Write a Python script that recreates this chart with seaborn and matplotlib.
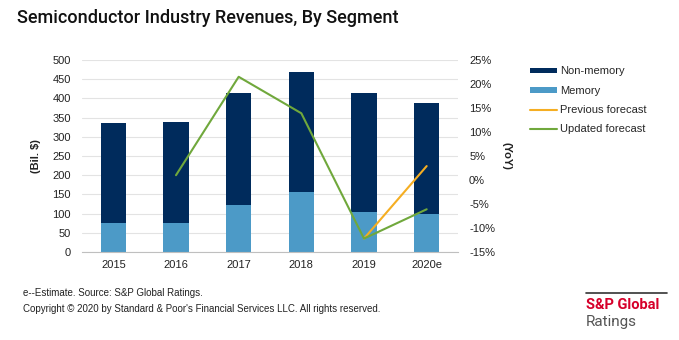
import numpy as np
import pandas as pd
import matplotlib
matplotlib.use("Agg")
import matplotlib.pyplot as plt
import seaborn as sns
from matplotlib.patches import Patch
from matplotlib.lines import Line2D

years = ["2015", "2016", "2017", "2018", "2019", "2020e"]
memory = [75, 76, 122, 156, 103, 100]
non_memory = [260, 262, 291, 312, 310, 287]
updated_forecast = [np.nan, 1.0, 21.5, 13.9, -12.2, -6.1]
previous_forecast = [np.nan, np.nan, np.nan, np.nan, -12.2, 2.9]

left_ticks = list(range(0, 501, 50))
right_ticks = list(range(-15, 26, 5))

NAVY = "#002B5C"
LIGHT = "#4C9AC7"
GREEN = "#70A83C"
ORANGE = "#F5AE22"
TXT = "#222222"

sns.set_theme(style="white")
plt.rcParams["font.family"] = ["Liberation Sans", "DejaVu Sans"]

df = pd.DataFrame({
    "year": years,
    "memory": memory,
    "total": np.array(memory) + np.array(non_memory),
    "pos": np.arange(len(years)),
    "upd": updated_forecast,
    "prev": previous_forecast,
})

fig = plt.figure(figsize=(6.79, 3.40), dpi=100)
ax = fig.add_axes([82 / 679, 1 - 252 / 340, 376 / 679, 192 / 340])

sns.barplot(data=df, x="year", y="total", color=NAVY, width=0.4, ax=ax,
            saturation=1, edgecolor="none")
sns.barplot(data=df, x="year", y="memory", color=LIGHT, width=0.4, ax=ax,
            saturation=1, edgecolor="none")

ax.set_ylim(0, 500)
ax.set_yticks(left_ticks)
ax.set_xlim(-0.5, len(years) - 0.5)
ax.yaxis.grid(True, color="#E3E3E3", linewidth=0.8)
ax.set_axisbelow(True)
for s in ["top", "right", "left"]:
    ax.spines[s].set_visible(False)
ax.spines["bottom"].set_color("#BFBFBF")
ax.spines["bottom"].set_linewidth(0.8)
ax.tick_params(axis="y", length=0, pad=8, labelsize=8, labelcolor=TXT)
ax.tick_params(axis="x", which="major", length=0, pad=6, labelsize=8, labelcolor=TXT)
ax.set_xticks(np.arange(-0.5, len(years)), minor=True)
ax.tick_params(axis="x", which="minor", length=4, color="#BFBFBF", width=0.8)
ax.set_xlabel("")
ax.set_ylabel("(Bil. $)", fontsize=8, fontweight="bold", color=TXT, labelpad=8)

ax2 = ax.twinx()
sns.lineplot(data=df, x="pos", y="prev", color=ORANGE, linewidth=1.5, ax=ax2)
sns.lineplot(data=df, x="pos", y="upd", color=GREEN, linewidth=1.5, ax=ax2)
ax2.set_ylim(-15, 25)
ax2.set_yticks(right_ticks)
ax2.set_yticklabels([f"{t}%" for t in right_ticks])
ax2.set_xlim(-0.5, len(years) - 0.5)
for s in ["top", "right", "left", "bottom"]:
    ax2.spines[s].set_visible(False)
ax2.tick_params(axis="y", length=0, pad=8, labelsize=8, labelcolor=TXT)
ax2.set_ylabel("(YoY)", fontsize=8, fontweight="bold", color=TXT, rotation=-90,
               labelpad=12)
ax2.set_xlabel("")

handles = [
    Patch(facecolor=NAVY, edgecolor="none"),
    Patch(facecolor=LIGHT, edgecolor="none"),
    Line2D([], [], color=ORANGE, linewidth=1.5),
    Line2D([], [], color=GREEN, linewidth=1.5),
]
labels = ["Non-memory", "Memory", "Previous forecast", "Updated forecast"]
fig.legend(handles, labels, loc="upper left", bbox_to_anchor=(526 / 679, 1 - 62 / 340),
           frameon=False, fontsize=8, handlelength=2.4, handleheight=0.45,
           labelspacing=0.84, handletextpad=0.25, borderaxespad=0)

fig.text(17 / 679, 1 - 18 / 340, "Semiconductor Industry Revenues, By Segment",
         fontsize=13, fontweight="medium", family=["Roboto", "DejaVu Sans"],
         color="#111111", va="center", ha="left")

fig.text(23 / 679, 1 - 293 / 340, "e--Estimate. Source: S&P Global Ratings.",
         fontsize=7, color=TXT, va="center")
fig.text(23 / 679, 1 - 309 / 340,
         "Copyright © 2020 by Standard & Poor's Financial Services LLC. All rights reserved.",
         fontsize=7, color=TXT, va="center")

fig.add_artist(Line2D([586 / 679, 667 / 679], [1 - 293 / 340, 1 - 293 / 340],
                      color="#333333", linewidth=1.2))
fig.text(586 / 679, 1 - 305 / 340, "S&P Global", fontsize=10.5, fontweight="bold",
         color="#D6002A", va="center", family=["Roboto", "DejaVu Sans"])
fig.text(586 / 679, 1 - 322 / 340, "Ratings", fontsize=11,
         color="#555555", va="center", family=["Roboto", "DejaVu Sans"])

fig.savefig("out.png", dpi=100)
